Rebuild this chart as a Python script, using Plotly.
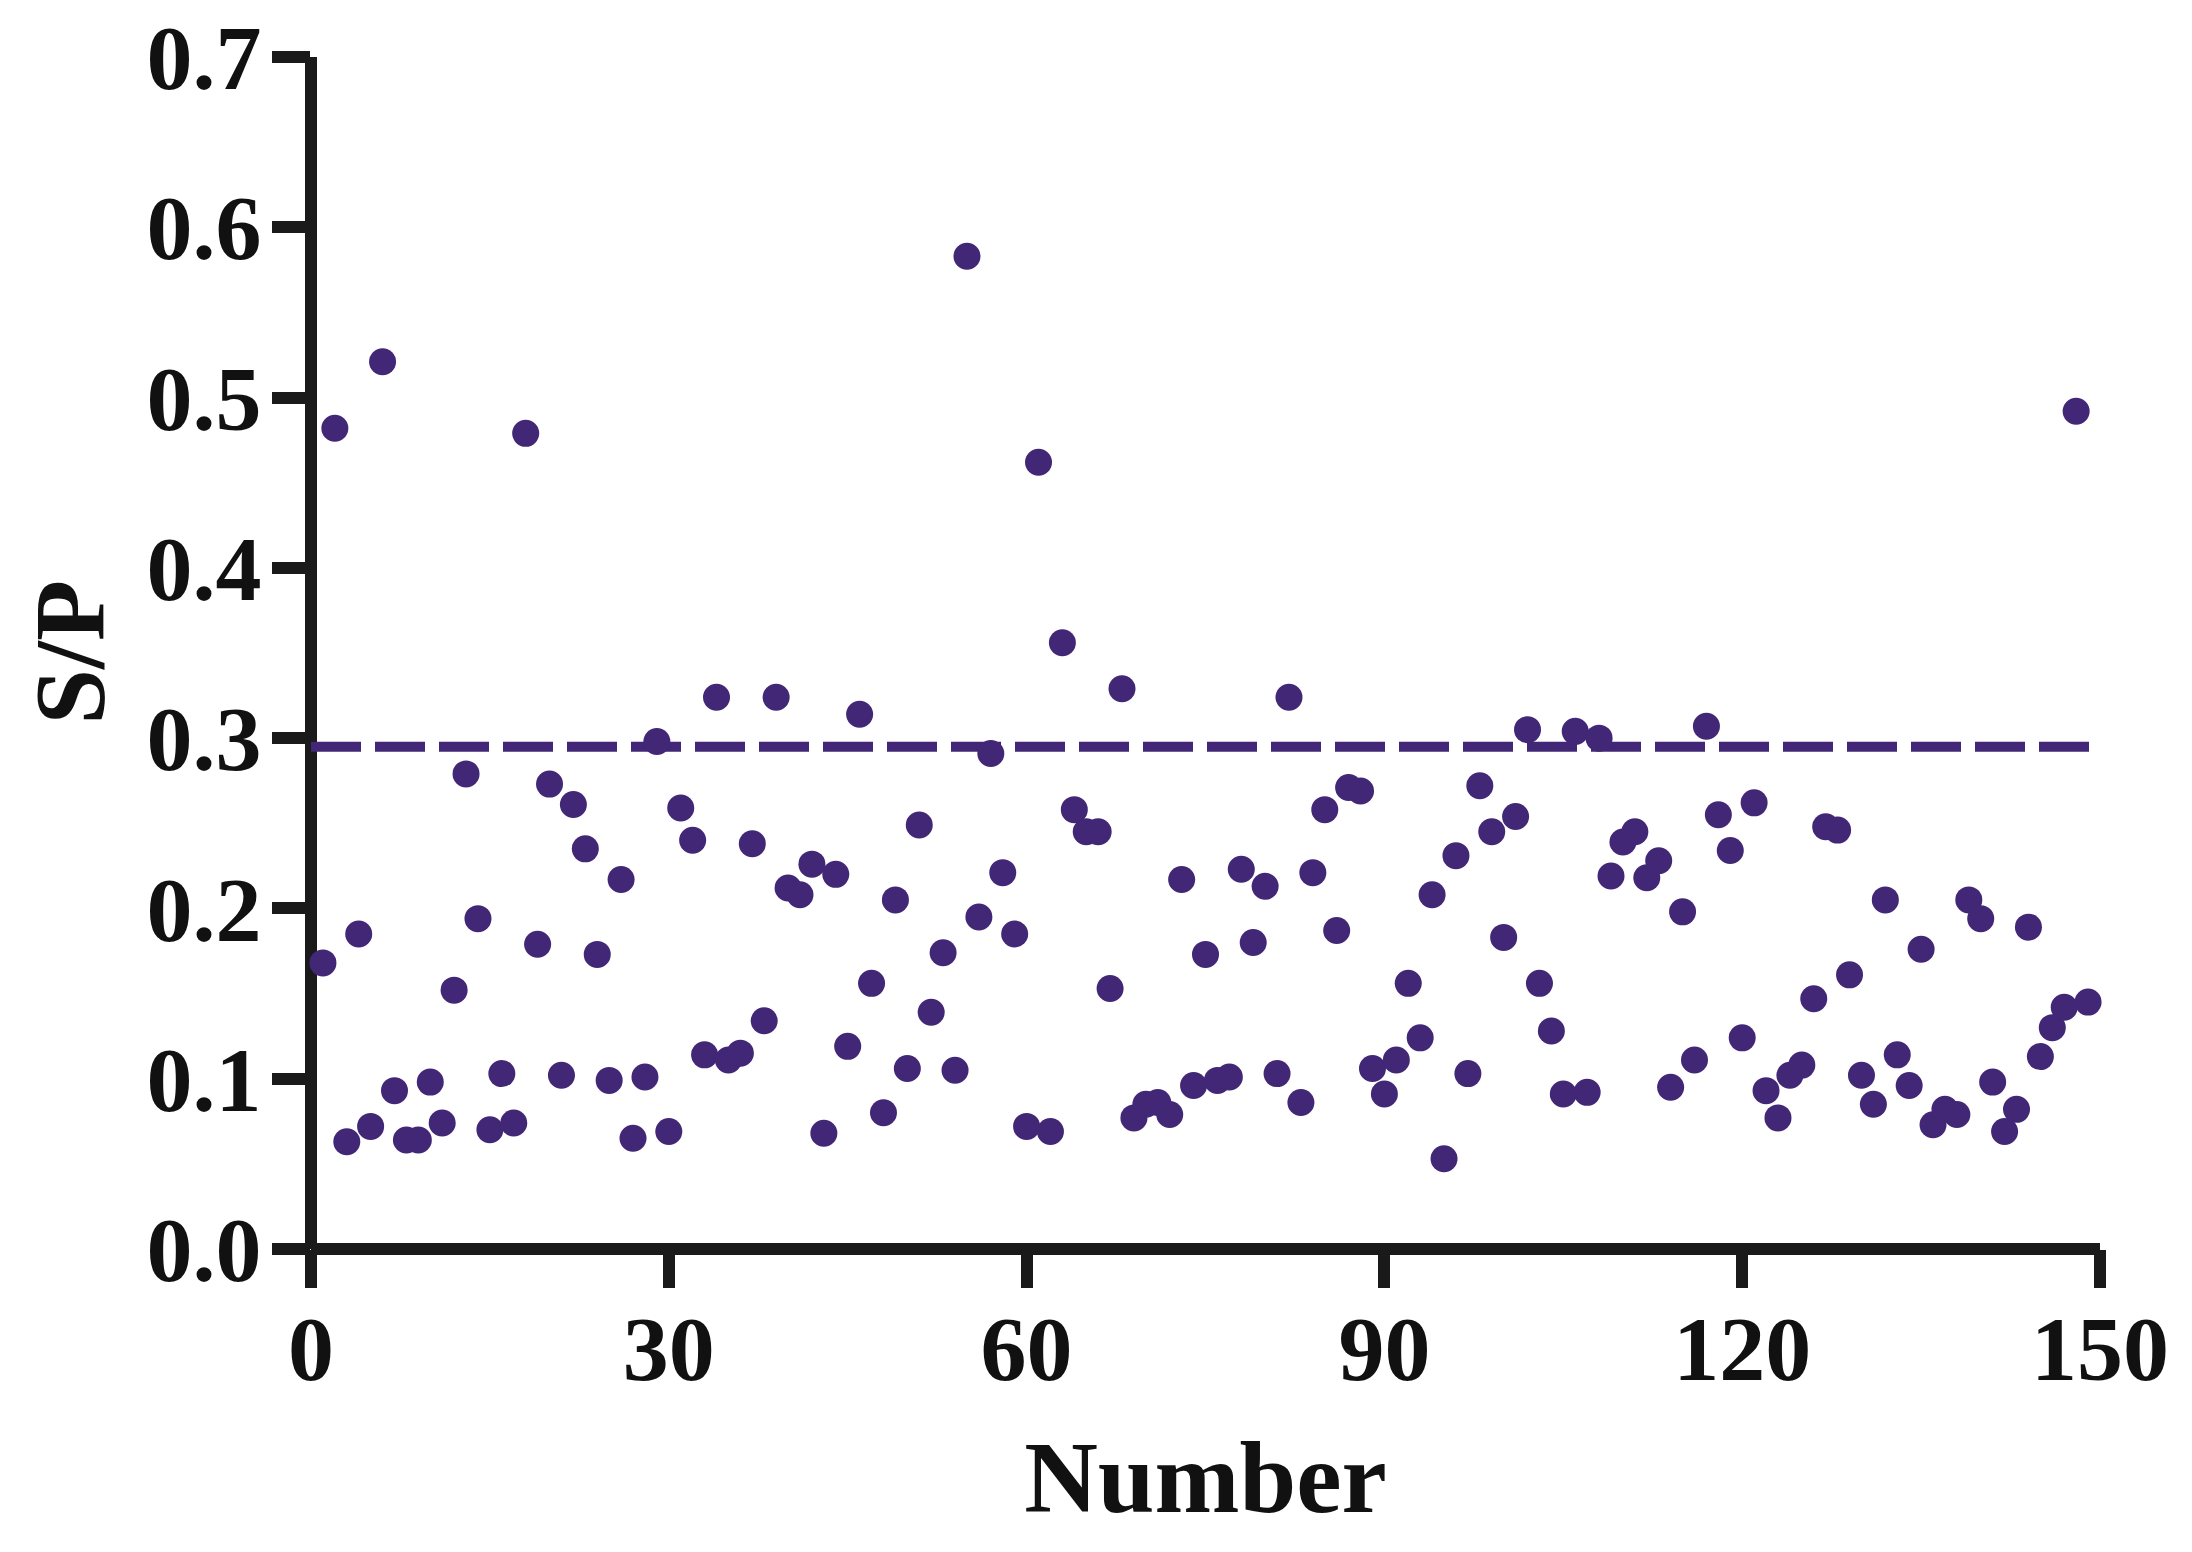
import plotly.graph_objects as go

# ---- data ----
number = list(range(1, 150))
sp = [
    0.168, 0.482, 0.063, 0.185, 0.072, 0.521, 0.093, 0.064, 0.064, 0.098,
    0.074, 0.152, 0.279, 0.194, 0.070, 0.103, 0.074, 0.479, 0.179, 0.273,
    0.102, 0.261, 0.235, 0.173, 0.099, 0.217, 0.065, 0.101, 0.298, 0.069,
    0.259, 0.240, 0.114, 0.324, 0.111, 0.115, 0.238, 0.134, 0.324, 0.212,
    0.208, 0.226, 0.068, 0.220, 0.119, 0.314, 0.156, 0.080, 0.205, 0.106,
    0.249, 0.139, 0.174, 0.105, 0.583, 0.195, 0.291, 0.221, 0.185, 0.072,
    0.462, 0.069, 0.356, 0.258, 0.245, 0.245, 0.153, 0.329, 0.077, 0.085,
    0.086, 0.079, 0.217, 0.096, 0.173, 0.099, 0.101, 0.223, 0.180, 0.213,
    0.103, 0.324, 0.086, 0.221, 0.258, 0.187, 0.271, 0.269, 0.106, 0.091,
    0.111, 0.156, 0.124, 0.208, 0.053, 0.231, 0.103, 0.272, 0.245, 0.183,
    0.254, 0.305, 0.156, 0.128, 0.091, 0.304, 0.092, 0.300, 0.219, 0.239,
    0.245, 0.218, 0.228, 0.095, 0.198, 0.111, 0.307, 0.255, 0.234, 0.124,
    0.262, 0.093, 0.077, 0.102, 0.108, 0.147, 0.248, 0.246, 0.161, 0.102,
    0.085, 0.205, 0.114, 0.096, 0.176, 0.073, 0.082, 0.079, 0.205, 0.194,
    0.098, 0.069, 0.082, 0.189, 0.113, 0.130, 0.142, 0.492, 0.145,
]
cutoff = 0.295
cutoff_x = [0, 150]
x_range = [0, 150]
y_range = [0, 0.7]
x_ticks = [0, 30, 60, 90, 120, 150]
y_ticks = [0.0, 0.1, 0.2, 0.3, 0.4, 0.5, 0.6, 0.7]
x_title = "Number"
y_title = "S/P"

PURPLE = "#412776"
AXIS = "#1a1a1a"
FONT = "Liberation Serif"

fig = go.Figure()
fig.add_trace(go.Scatter(
    x=cutoff_x, y=[cutoff, cutoff], mode="lines",
    line=dict(color=PURPLE, width=10, dash="50px,14px"),
    hoverinfo="skip", showlegend=False, cliponaxis=False,
))
fig.add_trace(go.Scatter(
    x=number, y=sp, mode="markers",
    marker=dict(color=PURPLE, size=27, line=dict(width=0)),
    showlegend=False, cliponaxis=False,
))

# axis lines centred exactly on the plot edges (x=0 / y=0), not clipped
fig.add_shape(type="line", xref="paper", yref="paper", layer="below",
              x0=0, x1=1, y0=0, y1=0, line=dict(color=AXIS, width=12))
fig.add_shape(type="line", xref="paper", yref="paper", layer="below",
              x0=0, x1=0, y0=0, y1=1, line=dict(color=AXIS, width=12))

# y-axis title as a rotated annotation whose box starts just inside the page edge
fig.add_annotation(
    text=y_title, xref="paper", yref="paper", x=0, y=0.5,
    xanchor="left", yanchor="middle", xshift=-300, textangle=-90,
    showarrow=False,
    font=dict(family=FONT, size=100, color="#111111", weight="bold"),
)

axis_common = dict(
    showline=False,
    ticks="outside", ticklen=38, tickwidth=12, tickcolor=AXIS,
    showgrid=False, zeroline=False, automargin=False,
    ticklabeloverflow="allow",
    tickfont=dict(family=FONT, size=92, color="#111111", weight="bold"),
)

# the page body adds an 8px offset, so the figure is placed 8px up/left
fig.update_layout(
    width=2176, height=1536,
    margin=dict(l=303, r=84, t=49, b=295),
    paper_bgcolor="white", plot_bgcolor="white",
    xaxis=dict(
        range=x_range, tickvals=x_ticks, ticktext=[str(v) for v in x_ticks],
        ticklabelstandoff=-18,
        title=dict(text=x_title, standoff=41,
                   font=dict(family=FONT, size=102, color="#111111", weight="bold")),
        **axis_common,
    ),
    yaxis=dict(
        range=y_range, tickvals=y_ticks, ticktext=[f"{v:.1f}" for v in y_ticks],
        ticklabelstandoff=-8,
        **axis_common,
    ),
)

fig.write_html("out.html")
